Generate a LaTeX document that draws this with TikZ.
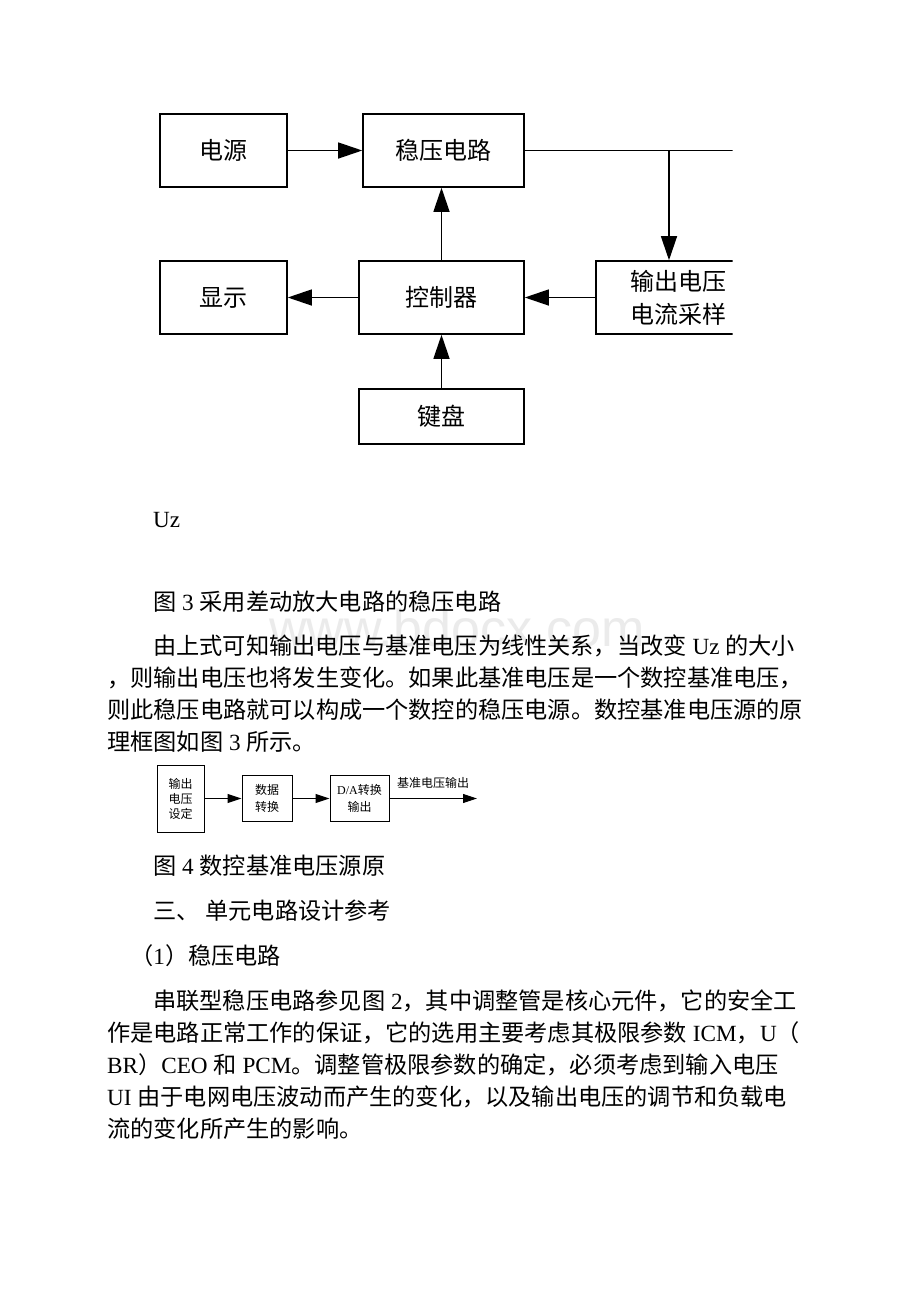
\documentclass[tikz,border=0pt]{standalone}
\usepackage{fontspec}
\setmainfont{Noto Sans CJK SC}
\newfontfamily\tm{Liberation Serif}
\newfontfamily\wmfont{Liberation Sans}
\usetikzlibrary{arrows.meta}
\tikzset{
  box/.style={draw, line width=1.6pt, inner sep=0pt, font=\fontsize{24}{33}\selectfont, align=center},
  arr/.style={line width=1.4pt, -{Triangle[length=24pt,width=16pt]}},
  sbox/.style={draw, line width=1pt, inner sep=0pt, align=center},
  sarr/.style={line width=1pt, -{Triangle[length=14pt,width=9pt]}},
  body/.style={anchor=base west, inner sep=0pt, font=\fontsize{23.2}{23.2}\selectfont},
}
\begin{document}
\begin{tikzpicture}[x=1pt,y=-1pt]
\useasboundingbox[fill=white] (0,0) rectangle (920,1302);
% watermark
\node[text=black!8, font=\wmfont\fontsize{52}{52}\selectfont, inner sep=0pt] (wm) at (457,628) {www.bdocx.com};
% ---------- top block diagram ----------
\begin{scope}
\clip (0,0) rectangle (732.5,500);
\node[box, minimum width=127pt, minimum height=73pt] (dy) at (223.5,150.5) {电源};
\node[box, minimum width=161pt, minimum height=73pt] (wy) at (443.5,150.5) {稳压电路};
\node[box, minimum width=127pt, minimum height=73pt] (xs) at (223.5,297.5) {显示};
\node[box, minimum width=165pt, minimum height=73pt] (ctrl) at (441.5,297.5) {控制器};
\node[box, minimum width=165pt, minimum height=73pt] (samp) at (678.5,297.5) {输出电压\\电流采样};
\node[box, minimum width=165pt, minimum height=55pt] (kb) at (441.5,416.5) {键盘};
\coordinate (rend) at (740,150.5);
\coordinate (br) at (669,150.5);
\draw[line width=1.4pt] (wy.east) -- (rend);
\draw[arr] (dy.east) -- (wy.west);
\draw[arr] (br) -- (br |- samp.north);
\draw[arr] (ctrl.north) -- (ctrl.north |- wy.south);
\draw[arr] (ctrl.west) -- (xs.east);
\draw[arr] (samp.west) -- (ctrl.east);
\draw[arr] (kb.north) -- (ctrl.south);
\end{scope}
% ---------- body text ----------
\node[body] (t1) at (153,527) {{\tm Uz}};
\node[body] (t2) at (153,610) {图{\tm\ 3\ }采用差动放大电路的稳压电路};
\node[body] (t3) at (153,654) {由上式可知输出电压与基准电压为线性关系，当改变{\tm\ Uz\ }的大小};
\node[body] (t4) at (107,686) {，则输出电压也将发生变化。如果此基准电压是一个数控基准电压，};
\node[body] (t5) at (107,718) {则此稳压电路就可以构成一个数控的稳压电源。数控基准电压源的原};
\node[body] (t6) at (107,750) {理框图如图{\tm\ 3\ }所示。};
% ---------- small diagram ----------
\node[sbox, font=\fontsize{12}{15}\selectfont, minimum width=47pt, minimum height=67pt] (s1) at (180.5,798.5) {输出\\电压\\设定};
\node[sbox, font=\fontsize{12}{17}\selectfont, minimum width=50pt, minimum height=46pt] (s2) at (267,798.5) {数据\\转换};
\node[sbox, font=\fontsize{12}{17}\selectfont, minimum width=59pt, minimum height=46pt] (s3) at (359.5,798.5) {{\tm D/A}转换\\输出};
\coordinate (sout) at (477,798.5);
\draw[sarr] (s1.east) -- (s2.west);
\draw[sarr] (s2.east) -- (s3.west);
\draw[sarr] (s3.east) -- (sout);
\node[inner sep=0pt, font=\fontsize{12}{12}\selectfont] (slab) at (433,783) {基准电压输出};
% ---------- body text 2 ----------
\node[body] (t7) at (153,874) {图{\tm\ 4\ }数控基准电压源原};
\node[body] (t8) at (153,919) {三、{\tm\ }单元电路设计参考};
\node[body] (t9) at (130,964) {（{\tm 1}）稳压电路};
\node[body] (t10) at (153,1009) {串联型稳压电路参见图{\tm\ 2}，其中调整管是核心元件，它的安全工};
\node[body] (t11) at (107,1041) {作是电路正常工作的保证，它的选用主要考虑其极限参数{\tm\ ICM}，{\tm U}（};
\node[body] (t12) at (107,1073) {{\tm BR}）{\tm CEO\ }和{\tm\ PCM}。调整管极限参数的确定，必须考虑到输入电压};
\node[body] (t13) at (107,1105) {{\tm UI\ }由于电网电压波动而产生的变化，以及输出电压的调节和负载电};
\node[body] (t14) at (107,1137) {流的变化所产生的影响。};
\end{tikzpicture}
\end{document}
